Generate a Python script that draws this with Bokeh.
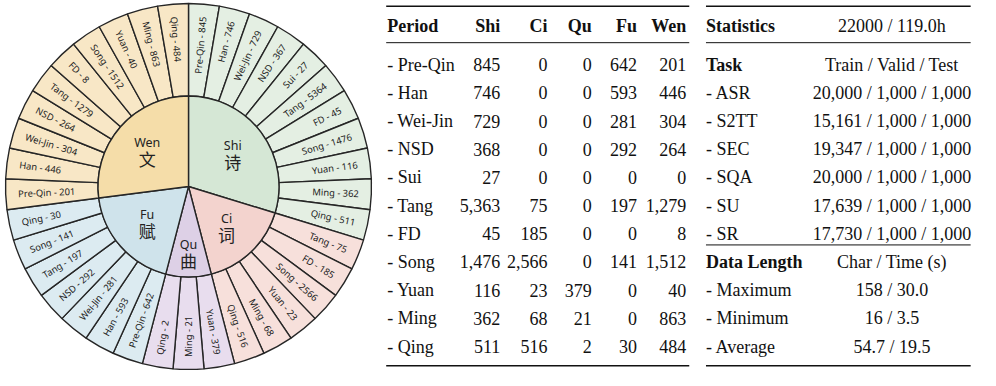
import math
from bokeh.plotting import figure
from bokeh.models import ColumnDataSource
from bokeh.core.properties import value
from bokeh.embed import file_html
from bokeh.resources import INLINE

# ---------------- data ----------------
periods = ["Pre-Qin", "Han", "Wei-Jin", "NSD", "Sui", "Tang", "FD", "Song", "Yuan", "Ming", "Qing"]
genres = ["Shi", "Ci", "Qu", "Fu", "Wen"]
genres_zh = ["诗", "词", "曲", "赋", "文"]
shi = [845, 746, 729, 368, 27, 5363, 45, 1476, 116, 362, 511]
ci = [0, 0, 0, 0, 0, 75, 185, 2566, 23, 68, 516]
qu = [0, 0, 0, 0, 0, 0, 0, 0, 379, 21, 2]
fu = [642, 593, 281, 292, 0, 197, 0, 141, 0, 0, 30]
wen = [201, 446, 304, 264, 0, 1279, 8, 1512, 40, 863, 484]

# values as printed on the wheel
wheel_shi = [845, 746, 729, 367, 27, 5364, 45, 1476, 116, 362, 511]
wheel_ci = [0, 0, 0, 0, 0, 75, 185, 2566, 23, 68, 516]
wheel_qu = [0, 0, 0, 0, 0, 0, 0, 0, 379, 21, 2]
wheel_fu = [642, 593, 281, 292, 0, 197, 0, 141, 0, 0, 30]
wheel_wen = [201, 446, 304, 264, 0, 1279, 8, 1512, 40, 863, 484]

stat_samples = 22000
stat_hours = 119.0
tasks = ["ASR", "S2TT", "SEC", "SQA", "SU", "SR"]
train = [20000, 15161, 19347, 20000, 17639, 17730]
valid = [1000, 1000, 1000, 1000, 1000, 1000]
test = [1000, 1000, 1000, 1000, 1000, 1000]
length_rows = ["Maximum", "Minimum", "Average"]
length_char = ["158", "16", "54.7"]
length_time = ["30.0", "3.5", "19.5"]

# ---------------- style ----------------
inner_colors = ["#d5e7d5", "#f3d3ce", "#ddd0e6", "#cfe3eb", "#f5dda9"]
outer_colors = ["#e4efe3", "#f7e0db", "#e8ddee", "#dcebf1", "#f8e7c6"]
LINE = "#262626"
W, H = 980, 370
SX, SY = 980 / 996, 370 / 386  # layout designed on a 996x386 grid
SERIF = value("Liberation Serif")
HAND = value("Noto Sans")


def X(t):
    return t * SX


def Y(t):
    return H - t * SY


p = figure(width=W, height=H, x_range=(0, W), y_range=(0, H),
           output_backend="svg", toolbar_location=None, min_border=0)
p.axis.visible = False
p.grid.visible = False
p.outline_line_color = None
p.background_fill_color = "white"

# ---------------- wheel ----------------
cx, cy = 188, H - 186
R_out, R_in, R_lab = 183, 90.5, 170.5
wheel = [wheel_shi, wheel_ci, wheel_qu, wheel_fu, wheel_wen]

seg_genre, seg_label = [], []
for gi, vals in enumerate(wheel):
    for pi_, v in enumerate(vals):
        if v > 0:
            seg_genre.append(gi)
            seg_label.append(f"{periods[pi_]} - {v}")
n = len(seg_label)
w = 2 * math.pi / n
starts = [math.pi / 2 - (k + 1) * w for k in range(n)]
ends = [math.pi / 2 - k * w for k in range(n)]

p.annular_wedge(x=cx, y=cy, inner_radius=R_in, outer_radius=R_out,
                start_angle="s", end_angle="e", fill_color="c",
                line_color=LINE, line_width=1.4,
                source=ColumnDataSource(dict(s=starts, e=ends,
                                             c=[outer_colors[g] for g in seg_genre])))

# inner genre wedges
gs, ge = [], []
for gi in range(len(genres)):
    ks = [k for k in range(n) if seg_genre[k] == gi]
    gs.append(starts[max(ks)])
    ge.append(ends[min(ks)])
p.wedge(x=cx, y=cy, radius=R_in, start_angle="s", end_angle="e", fill_color="c",
        line_color=LINE, line_width=1.4,
        source=ColumnDataSource(dict(s=gs, e=ge, c=inner_colors)))

# outer labels
lx, ly, la, lal = [], [], [], []
for k in range(n):
    th = (starts[k] + ends[k]) / 2
    lx.append(cx + R_lab * math.cos(th))
    ly.append(cy + R_lab * math.sin(th))
    if math.cos(th) > 1e-6:
        la.append(th)
        lal.append("right")
    else:
        la.append(th + math.pi)
        lal.append("left")
p.text(x="x", y="y", text="t", angle="a", text_align="al", text_baseline="middle",
       text_font=HAND, text_font_size="9.4px", text_color="#222222",
       source=ColumnDataSource(dict(x=lx, y=ly, t=seg_label, a=la, al=lal)))

# inner labels
ex, ey, zx, zy = [], [], [], []
for gi in range(len(genres)):
    th = (gs[gi] + ge[gi]) / 2
    r = 66 if genres[gi] == "Qu" else 55
    x = cx + r * math.cos(th)
    y = cy + r * math.sin(th)
    ex.append(x); ey.append(y + 8)
    zx.append(x); zy.append(y - 8)
p.text(x=ex, y=ey, text=genres, text_align="center", text_baseline="middle",
       text_font=HAND, text_font_size="12.5px", text_color="#222222")
p.text(x=zx, y=zy, text=genres_zh, text_align="center", text_baseline="middle",
       text_font=value("Noto Sans CJK SC"), text_font_size="17px", text_color="#222222")

# ---------------- tables (positions on 996x386 grid) ----------------
HEAD = 27
def row_y(i):
    return 67 + 29.4 * i

FS = "18px"
T1_L, T1_R = 392, 700
T2_L, T2_R = 717, 986
rules = [  # x0, x1, y, width
    (T1_L, T1_R, 6, 1.6), (T1_L, T1_R, 44, 1.0), (T1_L, T1_R, 381, 1.6),
    (T2_L, T2_R, 6, 1.6), (T2_L, T2_R, 44, 1.0), (T2_L, T2_R, 255, 1.0), (T2_L, T2_R, 381, 1.6),
]
for x0, x1, yy, lw in rules:
    p.segment(x0=X(x0), y0=Y(yy), x1=X(x1), y1=Y(yy), line_color="#111111", line_width=lw)

# table 1
T1_TEXT = 393
col_right = [508, 556, 601, 647, 697]
p.text(x=[X(T1_TEXT)], y=[Y(HEAD)], text=["Period"], text_align="left", text_baseline="middle",
       text_font=SERIF, text_font_size=FS, text_font_style="bold", text_color="#111111")
p.text(x=[X(c) for c in col_right], y=[Y(HEAD)] * 5, text=genres, text_align="right",
       text_baseline="middle", text_font=SERIF, text_font_size=FS, text_font_style="bold",
       text_color="#111111")
cols = [shi, ci, qu, fu, wen]
tx, ty, tt = [], [], []
for i, per in enumerate(periods):
    for c, vals in enumerate(cols):
        tx.append(X(col_right[c])); ty.append(Y(row_y(i))); tt.append(f"{vals[i]:,}")
p.text(x=[X(T1_TEXT)] * len(periods), y=[Y(row_y(i)) for i in range(len(periods))],
       text=[f"- {q}" for q in periods], text_align="left", text_baseline="middle",
       text_font=SERIF, text_font_size=FS, text_color="#111111")
p.text(x=tx, y=ty, text=tt, text_align="right", text_baseline="middle",
       text_font=SERIF, text_font_size=FS, text_color="#111111")

# table 2
T2_TEXT, T2_MID = 717, 906
bold_l = ["Statistics", "Task", "Data Length"]
bold_y = [HEAD, row_y(0), row_y(7)]
p.text(x=[X(T2_TEXT)] * 3, y=[Y(v) for v in bold_y], text=bold_l, text_align="left",
       text_baseline="middle", text_font=SERIF, text_font_size=FS,
       text_font_style="bold", text_color="#111111")
left_t, left_y, mid_t, mid_y = [], [], [], []
mid_t += [f"{stat_samples} / {stat_hours:.1f}h", "Train / Valid / Test", "Char / Time (s)"]
mid_y += [HEAD, row_y(0), row_y(7)]
for i, t in enumerate(tasks):
    left_t.append(f"- {t}"); left_y.append(row_y(1 + i))
    mid_t.append(f"{train[i]:,} / {valid[i]:,} / {test[i]:,}"); mid_y.append(row_y(1 + i))
for i, t in enumerate(length_rows):
    left_t.append(f"- {t}"); left_y.append(row_y(8 + i))
    mid_t.append(f"{length_char[i]} / {length_time[i]}"); mid_y.append(row_y(8 + i))
p.text(x=[X(T2_TEXT)] * len(left_t), y=[Y(v) for v in left_y], text=left_t, text_align="left",
       text_baseline="middle", text_font=SERIF, text_font_size=FS, text_color="#111111")
p.text(x=[X(T2_MID)] * len(mid_t), y=[Y(v) for v in mid_y], text=mid_t, text_align="center",
       text_baseline="middle", text_font=SERIF, text_font_size=FS, text_color="#111111")

open("out.html", "w").write(file_html(p, INLINE))
